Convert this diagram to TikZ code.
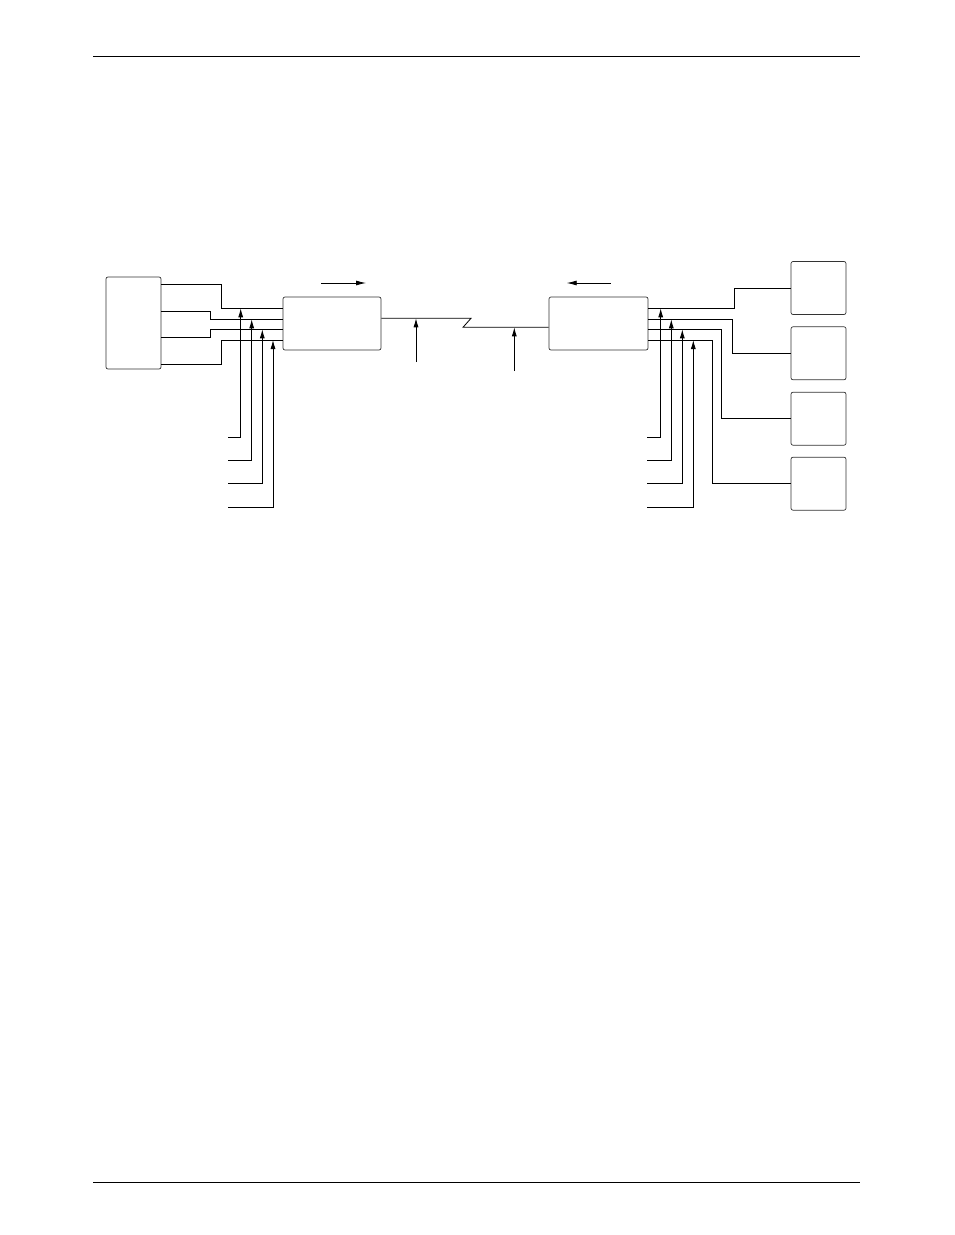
\documentclass[tikz,border=0pt]{standalone}
\usetikzlibrary{arrows.meta}
\begin{document}
\begin{tikzpicture}[x=1pt,y=-1pt,line width=0.8pt,
    unitbox/.style={draw=black!80,line width=0.7pt,rounded corners=2pt,inner sep=0pt,
      minimum width=#1,minimum height=53pt},
    ctl/.style={-{Latex[length=9pt,width=5pt]}},
    dir/.style={-{Latex[length=10pt,width=5pt]}}]
  \useasboundingbox (0,0) rectangle (954,1235);
  \draw[line width=1pt] (93,56) -- (860,56) (93,1182) -- (860,1182);

  % units
  \node[unitbox=55pt,minimum height=92pt] (host) at (133.5,323) {};
  \node[unitbox=98pt] (modA) at (332,323.5) {};
  \node[unitbox=99pt] (modB) at (598.5,323.5) {};
  \foreach \i/\y in {1/288,2/353.3,3/418.7,4/483.7}
    \node[unitbox=55pt] (term\i) at (818.5,\y) {};

  % host side
  \foreach \hy/\jx/\ay in {284/221/308.3,311.3/210/319.3,337.3/210/329.3,364/221/340}
    \draw (host.east |- 0,\hy) -- (\jx,\hy) |- (modA.west |- 0,\ay);
  \foreach \i/\x/\y/\ay in {1/240.7/437.3/308.3,2/251.7/460/319.3,3/262.3/483.3/329.3,4/273/507/340}
    {
      \coordinate (inA\i) at (228,\y);
      \coordinate (tapA\i) at (\x,\ay);
      \draw[ctl] (inA\i) -| (tapA\i);
    }
  \coordinate (txA) at (321,283);
  \draw[dir] (txA) -- ++(45,0);

  % link
  \coordinate (zzA) at (471,318.3);
  \coordinate (zzB) at (463,327.3);
  \draw (modA.east |- zzA) -- (zzA) -- (zzB) -- (modB.west |- zzB);
  \coordinate (tapL) at (416,362);
  \coordinate (tapR) at (514.3,371);
  \draw[ctl] (tapL) -- (tapL |- zzA);
  \draw[ctl] (tapR) -- (tapR |- zzB);

  % terminal side
  \coordinate (txB) at (610.7,283);
  \draw[dir] (txB) -- ++(-44,0);
  \foreach \i/\by/\jx in {1/308.3/734.3,2/319.3/732.3,3/329.3/721,4/340/712}
    \draw (modB.east |- 0,\by) -- (\jx,\by) |- (term\i.west);
  \foreach \i/\x/\y/\by in {1/660.7/437.3/308.3,2/671.3/460/319.3,3/682.3/483.3/329.3,4/693.3/507/340}
    {
      \coordinate (inB\i) at (647.3,\y);
      \coordinate (tapB\i) at (\x,\by);
      \draw[ctl] (inB\i) -| (tapB\i);
    }
\end{tikzpicture}
\end{document}
